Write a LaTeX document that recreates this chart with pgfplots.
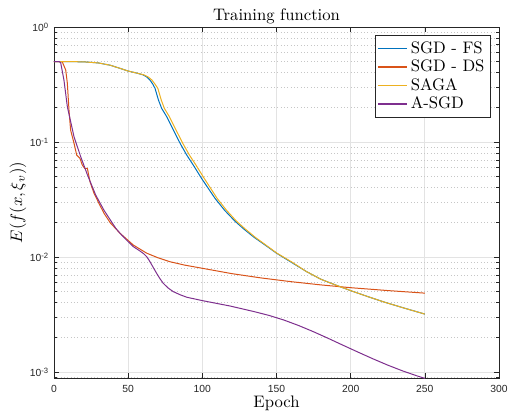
\documentclass[border=0pt]{standalone}
\usepackage{fontspec}
\usepackage{pgfplots}
\pgfplotsset{compat=1.18}
\newfontfamily\helv{Liberation Sans}
\newcommand\tickfont{\helv\fontsize{6.2}{7}\selectfont}
\newcommand\dec[1]{10\raisebox{0.55ex}{\fontsize{4.6}{5}\selectfont #1}}
\definecolor{mblue}{rgb}{0,0.447,0.741}
\definecolor{morange}{rgb}{0.850,0.325,0.098}
\definecolor{myellow}{rgb}{0.929,0.694,0.125}
\definecolor{mpurple}{rgb}{0.494,0.184,0.556}
\definecolor{axgray}{gray}{0.15}

\begin{document}
\begin{tikzpicture}
\useasboundingbox (-32.4pt,-20.4pt) rectangle (272.4pt,226.8pt);
\begin{axis}[
  at={(0,0)}, anchor=south west,
  scale only axis, width=267pt, height=210.6pt,
  xmin=0, xmax=300, ymode=log, ymin=8.87e-4, ymax=1,
  xtick={0,50,100,150,200,250,300},
  xticklabels={0,50,100,150,200,250,300},
  ytick={1e-3,1e-2,1e-1,1},
  yticklabels={\dec{-3},\dec{-2},\dec{-1},\dec{0}},
  minor ytick={9e-4,2e-3,3e-3,4e-3,5e-3,6e-3,7e-3,8e-3,9e-3,
    2e-2,3e-2,4e-2,5e-2,6e-2,7e-2,8e-2,9e-2,
    0.2,0.3,0.4,0.5,0.6,0.7,0.8,0.9},
  tick align=inside, major tick length=3pt, minor tick length=1.8pt,
  every tick/.style={axgray, line width=0.4pt},
  axis line style={axgray, line width=0.5pt},
  ticklabel style={font=\tickfont, text=axgray},
  xticklabel style={anchor=base, yshift=-8.8pt},
  grid=both,
  major grid style={gray!22, line width=0.45pt},
  minor grid style={gray!45, line width=0.35pt, dash pattern=on 0.5pt off 1.5pt},
  title={Training function},
  every axis title/.style={at={(axis description cs:0.5,1)}, anchor=base, yshift=3.8pt},
  xlabel={Epoch},
  every axis x label/.style={at={(axis description cs:0.5,0)}, anchor=base, yshift=-17.7pt},
  ylabel={$E(f(x,\xi_v))$},
  every axis y label/.style={at={(axis description cs:-0.081,0.5)}, rotate=90, anchor=center},
  legend cell align=left,
  legend style={at={(rel axis cs:1,1)}, anchor=north east, xshift=-5pt, yshift=-5pt,
    draw=axgray, fill=white, font=\fontsize{10}{12}\selectfont, row sep=-1.5pt,
    inner sep=1.5pt},
  legend image post style={line width=0.8pt},
  every axis plot/.append style={line width=0.6pt, line join=round},
]
\addplot[mblue] coordinates {
(0,0.5)(10,0.5)(20,0.498)(30,0.487)(38,0.465)(44.5,0.437)(50,0.414)(56,0.397)
(60.2,0.383)(62.5,0.368)(64.7,0.346)(66.5,0.32)(68.1,0.293)(70.4,0.232)(72.6,0.196)
(76,0.166)(80.5,0.127)(85,0.0975)(89.5,0.077)(93.9,0.063)(99.6,0.048)(108.6,0.0323)
(115,0.0255)(122,0.0205)(128,0.0175)(135,0.0148)(142,0.0128)(150,0.0108)(160,0.0090)
(170,0.0075)(180,0.0064)(190,0.0057)(200,0.0051)(210,0.0046)(222,0.00408)
(236,0.0036)(250,0.00319)};
\addlegendentry{SGD - FS}
\addplot[morange] coordinates {
(0,0.5)(4,0.5)(5.6,0.497)(7.9,0.423)(9,0.324)(10.1,0.19)(11.2,0.127)(13.5,0.0975)
(15.3,0.077)(17.5,0.072)(19.1,0.063)(20.7,0.059)(22.5,0.059)(24.3,0.045)(27,0.0358)
(30.3,0.0293)(33.7,0.024)(38,0.0198)(44.5,0.0161)(53.5,0.0127)(62.5,0.0108)
(70,0.00986)(78.2,0.0091)(88,0.00851)(100.3,0.00797)(120,0.007166)(140,0.006568)
(160,0.006101)(180,0.005721)(200,0.005412)(225,0.005109)(250,0.004853)};
\addlegendentry{SGD - DS}
\addplot[myellow] coordinates {
(0,0.5)(10,0.5)(20,0.498)(30,0.487)(38,0.465)(44.5,0.437)(50,0.414)(56,0.397)
(60.5,0.384)(63.5,0.368)(66,0.346)(68,0.32)(70,0.293)(72.3,0.232)(74.4,0.196)
(77.8,0.166)(82.3,0.127)(86.8,0.0975)(91.3,0.077)(95.7,0.063)(101.4,0.048)(110,0.0323)
(116.3,0.0255)(123,0.0205)(129,0.0175)(135.8,0.0148)(142.5,0.0128)(150.3,0.0108)
(160,0.0091)(170,0.0075)(180,0.0064)(190,0.0057)(200,0.0051)(210,0.0046)
(222,0.00408)(236,0.0036)(250,0.00319)};
\addlegendentry{SAGA}
\addplot[mpurple] coordinates {
(0,0.5)(3.5,0.5)(4.5,0.49)(6.7,0.346)(9,0.203)(13.5,0.111)(18,0.0745)(22.5,0.052)
(28.1,0.0346)(33.7,0.0255)(41.6,0.0178)(44.5,0.0161)(49,0.014)(53.5,0.0123)
(58,0.01127)(60.5,0.01067)(62.5,0.01007)(64.2,0.00933)(65.9,0.00855)(69.2,0.00721)
(71.5,0.00646)(73.7,0.0059)(77,0.00537)(80.4,0.0050)(85,0.0047)(89.5,0.00447)
(100.3,0.00417)(118.7,0.00375)(135,0.00335)(145,0.003105)(155,0.002831)
(165,0.002535)(175,0.002239)(185,0.001959)(195,0.001706)(205,0.001489)
(215,0.001303)(225,0.001148)(235,0.001023)(245,0.000923)(250,0.000881)};
\addlegendentry{A-SGD}
\end{axis}
\end{tikzpicture}
\end{document}
